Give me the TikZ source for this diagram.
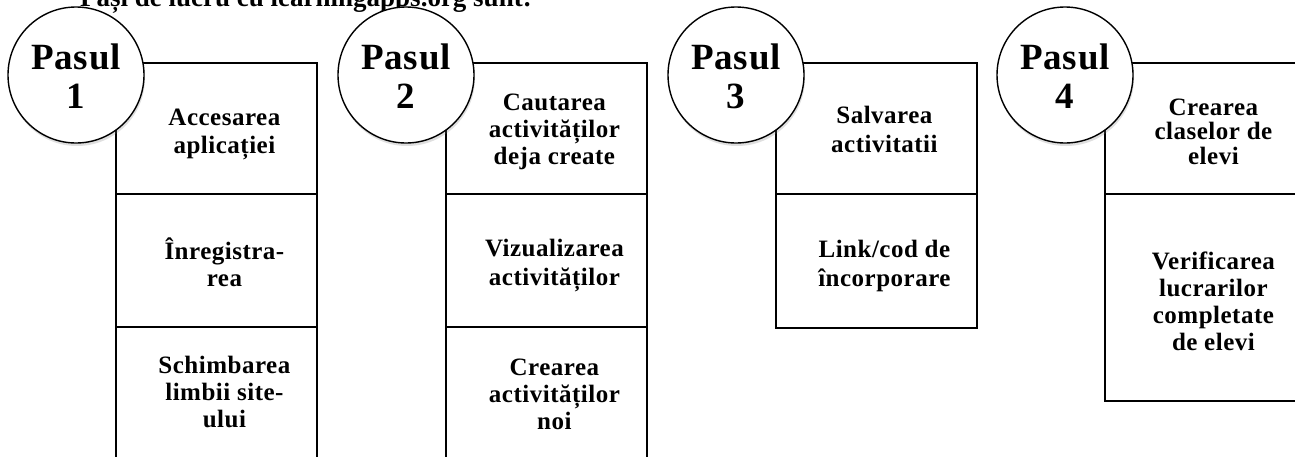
\documentclass[tikz,border=0pt]{standalone}
\usepackage{fontspec}
\setmainfont{Liberation Serif}
\usetikzlibrary{shadows}
\tikzset{
  cell/.style={draw=black, line width=1.8pt, fill=white, minimum width=201pt, inner sep=0pt, anchor=north west},
  celltext/.style={align=center, font=\fontsize{25}{28.5}\selectfont\bfseries\addfontfeatures{LetterSpace=2}, inner sep=0pt},
  celltextb/.style={celltext, font=\fontsize{25}{27}\selectfont\bfseries\addfontfeatures{LetterSpace=2}},
  celltextc/.style={celltext, font=\fontsize{25}{24.5}\selectfont\bfseries\addfontfeatures{LetterSpace=2}},
  stepcirc/.style={circle, draw=black, line width=1.4pt, fill=white, minimum size=136pt, inner sep=0pt,
    drop shadow={shadow xshift=1pt, shadow yshift=-3pt, opacity=0.25}},
  steptext/.style={align=center, font=\fontsize{37}{39}\selectfont\bfseries\addfontfeatures{LetterSpace=2}, inner sep=0pt},
  titletext/.style={font=\fontsize{27}{30}\selectfont\bfseries, inner sep=0pt, anchor=base west}
}
\begin{document}
\begin{tikzpicture}[x=1pt, y=-1pt]
\useasboundingbox (0,0) rectangle (1295,456);
\clip (0,0) rectangle (1295,456);
\fill[white] (0,0) rectangle (1295,456);
% title (cut off at the top)
\node[titletext] (title) at (80,6) {Pași de lucru cu learningapps.org sunt:};
% column 1
\node[cell, minimum height=131pt] (a1) at (115,62) {};
\node[cell, minimum height=133pt] (a2) at (115,193) {};
\node[cell, minimum height=140pt] (a3) at (115,326) {};
% column 2
\node[cell, minimum height=131pt] (b1) at (445,62) {};
\node[cell, minimum height=133pt] (b2) at (445,193) {};
\node[cell, minimum height=140pt] (b3) at (445,326) {};
% column 3
\node[cell, minimum height=131pt] (c1) at (775,62) {};
\node[cell, minimum height=134pt] (c2) at (775,193) {};
% column 4
\node[cell, minimum height=131pt] (d1) at (1104,62) {};
\node[cell, minimum height=207pt] (d2) at (1104,193) {};
% texts
\node[celltext] (ta1) at ([xshift=8pt,yshift=-6pt]a1.center) {Accesarea\\aplicației};
\node[celltextb] (ta2) at ([xshift=8pt,yshift=-2pt]a2.center) {Înregistra-\\rea};
\node[celltextb] (ta3) at ([xshift=8pt,yshift=5pt]a3.center) {Schimbarea\\limbii site-\\ului};
\node[celltextb] (tb1) at ([xshift=8pt,yshift=-3pt]b1.center) {Cautarea\\activităților\\deja create};
\node[celltext] (tb2) at ([xshift=8pt,yshift=-5pt]b2.center) {Vizualizarea\\activităților};
\node[celltextb] (tb3) at ([xshift=8pt,yshift=3pt]b3.center) {Crearea\\activităților\\noi};
\node[celltext] (tc1) at ([xshift=8pt,yshift=-1pt]c1.center) {Salvarea\\activitatii};
\node[celltext] (tc2) at ([xshift=8pt,yshift=-5pt]c2.center) {Link/cod de\\încorporare};
\node[celltextc] (td1) at ([xshift=8pt,yshift=-3pt]d1.center) {Crearea\\claselor de\\elevi};
\node[celltextb] (td2) at ([xshift=8pt,yshift=-4pt]d2.center) {Verificarea\\lucrarilor\\completate\\de elevi};
% circles
\node[stepcirc] (p1) at (76,75) {};
\node[stepcirc] (p2) at (406,75) {};
\node[stepcirc] (p3) at (736,75) {};
\node[stepcirc] (p4) at (1065,75) {};
\node[steptext] (tp1) at ([yshift=-1pt]p1.center) {Pasul\\1};
\node[steptext] (tp2) at ([yshift=-1pt]p2.center) {Pasul\\2};
\node[steptext] (tp3) at ([yshift=-1pt]p3.center) {Pasul\\3};
\node[steptext] (tp4) at ([yshift=-1pt]p4.center) {Pasul\\4};
\end{tikzpicture}
\end{document}
